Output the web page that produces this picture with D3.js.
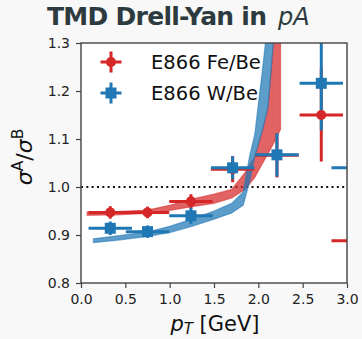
<!DOCTYPE html>
<html><head><meta charset="utf-8">
<script src="https://cdn.jsdelivr.net/npm/d3@7"></script>
<style>
html,body{margin:0;padding:0;background:#f8f8f8;}
svg{display:block;font-family:"DejaVu Sans",sans-serif;}
</style></head>
<body>
<svg id="chart" width="362" height="339"></svg>
<script>
// ---- data ----
const pT = [0.33, 0.75, 1.24, 1.71, 2.21, 2.71, 3.07];
const pTErr = [0.245, 0.245, 0.245, 0.245, 0.245, 0.245, 0.245];
const feBe = [0.947, 0.947, 0.970, 1.037, 1.066, 1.150, 0.888];
const feBeErr = [0.013, 0.012, 0.015, 0.027, 0.046, 0.097, 0.050];
const wBe = [0.914, 0.907, 0.940, 1.040, 1.067, 1.216, 1.040];
const wBeErr = [0.014, 0.013, 0.017, 0.024, 0.045, 0.098, 0.050];

const feBandX  = [0.07, 0.40, 0.75, 1.00, 1.25, 1.50, 1.70, 1.85, 1.96, 2.05, 2.11, 2.17, 2.25];
const feBandLo = [0.941, 0.942, 0.945, 0.951, 0.959, 0.966, 0.977, 0.995, 1.020, 1.050, 1.070, 1.090, 1.120];
const feBandHi = [0.948, 0.949, 0.952, 0.962, 0.975, 0.985, 0.995, 1.030, 1.063, 1.120, 1.167, 1.300, 1.500];

const wBandX  = [0.14, 0.40, 0.75, 1.00, 1.25, 1.50, 1.70, 1.83, 1.90, 1.96, 2.05, 2.11, 2.17];
const wBandLo = [0.884, 0.889, 0.897, 0.905, 0.918, 0.933, 0.946, 0.962, 1.010, 1.063, 1.120, 1.167, 1.300];
const wBandHi = [0.892, 0.898, 0.906, 0.918, 0.933, 0.950, 0.966, 0.990, 1.063, 1.110, 1.250, 1.350, 1.500];

const xTicks = [0.0, 0.5, 1.0, 1.5, 2.0, 2.5, 3.0];
const yTicks = [0.8, 0.9, 1.0, 1.1, 1.2, 1.3];
const seriesNames = ["E866 Fe/Be", "E866 W/Be"];

// ---- layout ----
const RED = "#d62728", BLUE = "#1f77b4";
const L = 81, R = 347, T = 43, B = 283;
const svg = d3.select("#chart");
svg.append("rect").attr("width", 362).attr("height", 339).attr("fill", "#f8f8f8");
svg.append("rect").attr("x", L).attr("y", T).attr("width", R - L).attr("height", B - T).attr("fill", "#fff");

const x = d3.scaleLinear().domain([0, 3]).range([L, R]);
const y = d3.scaleLinear().domain([0.8, 1.3]).range([B, T]);

svg.append("defs").append("clipPath").attr("id", "clip")
  .append("rect").attr("x", L).attr("y", T).attr("width", R - L).attr("height", B - T);
const plot = svg.append("g").attr("clip-path", "url(#clip)");

// dotted line at 1
plot.append("line").attr("x1", x(0)).attr("x2", x(3)).attr("y1", y(1)).attr("y2", y(1))
  .attr("stroke", "#111").attr("stroke-width", 2).attr("stroke-dasharray", "2,3.33");

// bands
function band(xs, lo, hi, color) {
  const pts = xs.map((d, i) => ({x: d, lo: lo[i], hi: hi[i]}));
  const area = d3.area().x(d => x(d.x)).y0(d => y(d.lo)).y1(d => y(d.hi));
  plot.append("path").datum(pts).attr("d", area)
    .attr("fill", color).attr("fill-opacity", 0.72)
    .attr("stroke", color).attr("stroke-opacity", 0.55).attr("stroke-width", 1.2);
}
band(feBandX, feBandLo, feBandHi, RED);
band(wBandX, wBandLo, wBandHi, BLUE);

// error bars first, then markers
const sets = [
  {vals: feBe, errs: feBeErr, color: RED, shape: d3.symbolCircle, size: 80},
  {vals: wBe, errs: wBeErr, color: BLUE, shape: d3.symbolSquare, size: 121}
];
sets.forEach(s => {
  const data = pT.map((d, i) => ({x: d, xe: pTErr[i], y: s.vals[i], ye: s.errs[i]}));
  const g = plot.append("g");
  g.selectAll(".h").data(data).join("line")
    .attr("x1", d => x(d.x - d.xe)).attr("x2", d => x(d.x + d.xe))
    .attr("y1", d => y(d.y)).attr("y2", d => y(d.y))
    .attr("stroke", s.color).attr("stroke-width", 3);
  g.selectAll(".v").data(data).join("line")
    .attr("x1", d => x(d.x)).attr("x2", d => x(d.x))
    .attr("y1", d => y(d.y - d.ye)).attr("y2", d => y(d.y + d.ye))
    .attr("stroke", s.color).attr("stroke-width", 3);
  s.data = data;
});
sets.forEach(s => {
  plot.append("g").selectAll("path").data(s.data).join("path")
    .attr("transform", d => `translate(${x(d.x)},${y(d.y)})`)
    .attr("d", d3.symbol().type(s.shape).size(s.size)())
    .attr("fill", s.color);
});

// spines
svg.append("rect").attr("x", L).attr("y", T).attr("width", R - L).attr("height", B - T)
  .attr("fill", "none").attr("stroke", "#444").attr("stroke-width", 1.4);

// axes
const xAxis = svg.append("g").attr("transform", `translate(0,${B})`)
  .call(d3.axisBottom(x).tickValues(xTicks).tickFormat(d3.format(".1f")).tickSize(5).tickPadding(6));
const yAxis = svg.append("g").attr("transform", `translate(${L},0)`)
  .call(d3.axisLeft(y).tickValues(yTicks).tickFormat(d3.format(".1f")).tickSize(5).tickPadding(6));
[xAxis, yAxis].forEach(a => {
  a.select(".domain").remove();
  a.selectAll(".tick line").attr("stroke", "#444").attr("stroke-width", 1.2);
  a.selectAll(".tick text").attr("fill", "#222").style("font-size", "14px")
    .style("font-family", "'DejaVu Sans', sans-serif");
});

// title
svg.append("text").attr("x", 47).attr("y", 25).attr("fill", "#2d3b40")
  .attr("font-weight", "bold").style("font-size", "25px")
  .attr("textLength", 220).attr("lengthAdjust", "spacing").text("TMD Drell-Yan in");
svg.append("text").attr("x", 278).attr("y", 25).attr("fill", "#2d3b40")
  .attr("font-style", "italic").style("font-size", "24px").text("pA");

// x label
const xl = svg.append("text").attr("x", 215).attr("y", 331).attr("text-anchor", "middle")
  .attr("fill", "#111").style("font-size", "21px");
xl.append("tspan").attr("font-style", "italic").text("p");
xl.append("tspan").attr("font-style", "italic").attr("dy", 3).style("font-size", "15px").text("T");
xl.append("tspan").attr("dy", -3).text(" [GeV]");

// y label
const yl = svg.append("text").attr("transform", "translate(32,157) rotate(-90)")
  .attr("text-anchor", "middle").attr("fill", "#111").style("font-size", "22px");
yl.append("tspan").attr("font-style", "italic").text("σ");
yl.append("tspan").attr("dy", -9).style("font-size", "15.5px").text("A");
yl.append("tspan").attr("dy", 9).text("/");
yl.append("tspan").attr("font-style", "italic").text("σ");
yl.append("tspan").attr("dy", -9).style("font-size", "15.5px").text("B");

// legend
const leg = svg.append("g");
const legColors = [RED, BLUE];
const legShapes = [d3.symbolCircle, d3.symbolSquare];
seriesNames.forEach((name, i) => {
  const cy = 62 + i * 31, cx = 111;
  const c = legColors[i];
  leg.append("line").attr("x1", cx - 10.5).attr("x2", cx + 10.5).attr("y1", cy).attr("y2", cy)
    .attr("stroke", c).attr("stroke-width", 3);
  leg.append("line").attr("x1", cx).attr("x2", cx).attr("y1", cy - 10.5).attr("y2", cy + 10.5)
    .attr("stroke", c).attr("stroke-width", 3);
  leg.append("path").attr("transform", `translate(${cx},${cy})`)
    .attr("d", d3.symbol().type(legShapes[i]).size(i ? 121 : 80)()).attr("fill", c);
  leg.append("text").attr("x", 151).attr("y", cy + 7).attr("fill", "#111")
    .style("font-size", "19.5px").text(name);
});
</script>
</body></html>
